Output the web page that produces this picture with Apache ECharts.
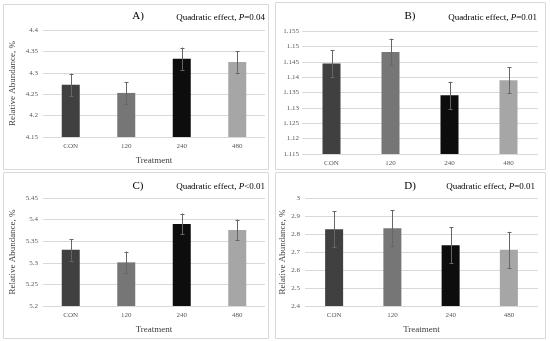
<!DOCTYPE html>
<html><head><meta charset="utf-8">
<script src="https://cdn.jsdelivr.net/npm/echarts@6/dist/echarts.min.js"></script>
<style>html,body{margin:0;padding:0;background:#fff}#c{width:550px;height:341px}</style>
</head><body><div id="c"></div>
<script>
const categories = ['CON', '120', '240', '480'];
const barColors = ['#404040', '#767676', '#0d0d0d', '#a6a6a6'];

const meansA = [4.272, 4.253, 4.333, 4.325];
const errA = [0.026, 0.025, 0.026, 0.025];
const meansB = [1.1444, 1.1482, 1.1341, 1.1390];
const errB = [0.0043, 0.0043, 0.0044, 0.0043];
const meansC = [5.330, 5.301, 5.390, 5.376];
const errC = [0.025, 0.025, 0.024, 0.024];
const meansD = [2.827, 2.832, 2.738, 2.712];
const errD = [0.100, 0.099, 0.100, 0.100];

const panelLabels = ['A)', 'B)', 'C)', 'D)'];
const pTexts = ['=0.04', '=0.01', '<0.01', '=0.01'];
const yRanges = [[4.15, 4.4, 0.05], [1.115, 1.155, 0.005], [5.2, 5.45, 0.05], [2.4, 3.0, 0.1]];

const FONT = '"Liberation Serif", "Times New Roman", serif';
const grids = [
  {left: 43, top: 30, width: 222, height: 107},
  {left: 302, top: 31, width: 236, height: 123},
  {left: 43, top: 198, width: 222, height: 108},
  {left: 305, top: 198, width: 233, height: 108}
];
const panels = [
  {means: meansA, err: errA, yName: true, xName: true},
  {means: meansB, err: errB, yName: false, xName: false},
  {means: meansC, err: errC, yName: true, xName: true},
  {means: meansD, err: errD, yName: true, xName: true}
];
const yNameGaps = [26, 0, 26, 15];

const xAxes = [], yAxes = [], series = [];
panels.forEach((p, i) => {
  xAxes.push({
    type: 'category', gridIndex: i, data: categories,
    axisLine: {show: false}, axisTick: {show: false},
    axisLabel: {fontFamily: FONT, fontSize: 7, color: '#595959', margin: 6},
    name: p.xName ? 'Treatment' : '', nameLocation: 'middle', nameGap: 19,
    nameTextStyle: {fontFamily: FONT, fontSize: 9, color: '#404040'}
  });
  const r = yRanges[i];
  yAxes.push({
    type: 'value', gridIndex: i, min: r[0], max: r[1], interval: r[2],
    axisLine: {show: false}, axisTick: {show: false},
    splitLine: {lineStyle: {color: '#d9d9d9', width: 1}},
    axisLabel: {fontFamily: FONT, fontSize: 7, color: '#595959', margin: i === 1 ? 3 : 5,
      formatter: v => String(parseFloat(v.toFixed(4)))},
    name: p.yName ? 'Relative Abundance, %' : '', nameLocation: 'middle', nameGap: yNameGaps[i],
    nameTextStyle: {fontFamily: FONT, fontSize: 9, color: '#404040'}
  });
  series.push({
    type: 'bar', xAxisIndex: i, yAxisIndex: i, barWidth: 18,
    data: p.means.map((v, k) => ({value: v, itemStyle: {color: barColors[k]}})),
    silent: true, z: 2
  });
  series.push({
    type: 'custom', xAxisIndex: i, yAxisIndex: i, z: 5, silent: true,
    data: p.means.map((v, k) => [k, v - p.err[k], v + p.err[k]]),
    renderItem: (params, api) => {
      const lo = api.coord([api.value(0), api.value(1)]);
      const hi = api.coord([api.value(0), api.value(2)]);
      const x = Math.round(lo[0]) + 0.5;
      const c = 2;
      const st = {stroke: '#666666', lineWidth: 1};
      return {type: 'group', children: [
        {type: 'line', shape: {x1: x, y1: lo[1], x2: x, y2: hi[1]}, style: st},
        {type: 'line', shape: {x1: x - c, y1: Math.round(hi[1]) + 0.5, x2: x + c, y2: Math.round(hi[1]) + 0.5}, style: st},
        {type: 'line', shape: {x1: x - c, y1: Math.round(lo[1]) + 0.5, x2: x + c, y2: Math.round(lo[1]) + 0.5}, style: st}
      ]};
    }
  });
});

const boxes = [[3, 4, 265, 165], [275, 2, 270, 167], [3, 172, 265, 166], [275, 172, 270, 166]];
const labelPos = [[138, 16], [410, 16], [138, 186], [410, 186]];
const quadRight = [265, 537, 265, 535];
const quadY = [18, 18, 187, 187];

const graphics = [];
boxes.forEach(b => graphics.push({type: 'rect', shape: {x: b[0] + 0.5, y: b[1] + 0.5, width: b[2], height: b[3]},
  style: {fill: 'none', stroke: '#d9d9d9', lineWidth: 1}, z: -1}));
const titles = [];
panelLabels.forEach((t, i) => {
  titles.push({text: t, left: labelPos[i][0], top: labelPos[i][1], textAlign: 'center', textVerticalAlign: 'middle',
    textStyle: {fontFamily: FONT, fontSize: 11, fontWeight: 'normal', color: '#000'}});
  titles.push({
    text: '{n|Quadratic effect, }{i|P}{n|' + pTexts[i] + '}',
    left: quadRight[i], top: quadY[i], textAlign: 'right', textVerticalAlign: 'middle',
    textStyle: {fontWeight: 'normal', fontFamily: FONT, fontSize: 9, rich: {
      n: {fontFamily: FONT, fontSize: 9, color: '#000', fontWeight: 'normal'},
      i: {fontFamily: FONT, fontSize: 9, color: '#000', fontStyle: 'italic', fontWeight: 'normal'}
    }}
  });
});

const chart = echarts.init(document.getElementById('c'), null, {renderer: 'canvas'});
chart.setOption({
  animation: false,
  backgroundColor: '#fff',
  grid: grids,
  xAxis: xAxes,
  yAxis: yAxes,
  series: series,
  graphic: graphics,
  title: titles.map(t => ({text: t.text, left: t.left, top: t.top, padding: 0,
    textAlign: t.textAlign, textVerticalAlign: t.textVerticalAlign, textStyle: t.textStyle}))
});
</script></body></html>
